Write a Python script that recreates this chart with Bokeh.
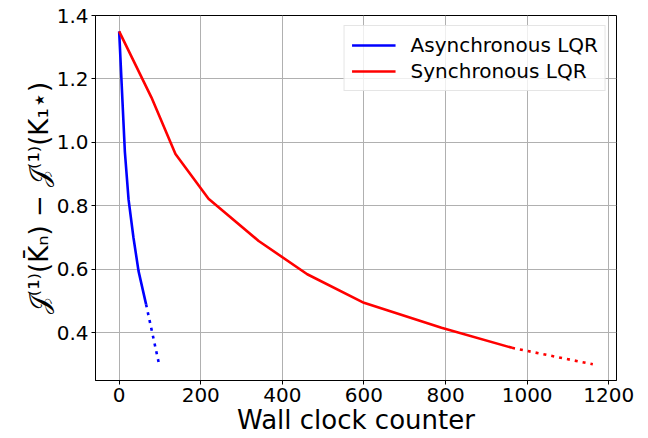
from bokeh.plotting import figure
from bokeh.models import Range1d, FixedTicker, Legend, LegendItem
from bokeh.embed import file_html
from bokeh.resources import INLINE

# ---- data ----
async_x = [0, 14, 23, 35, 47.5, 66]
async_y = [1.35, 0.97, 0.82, 0.70, 0.594, 0.489]
async_tail_x = [66, 97]
async_tail_y = [0.489, 0.305]

sync_x = [0, 79, 138, 219, 342, 461, 600, 790, 963]
sync_y = [1.35, 1.142, 0.963, 0.822, 0.689, 0.584, 0.494, 0.415, 0.352]
sync_tail_x = [963, 1161]
sync_tail_y = [0.352, 0.300]

x_ticks = [0, 200, 400, 600, 800, 1000, 1200]
y_ticks = [0.4, 0.6, 0.8, 1.0, 1.2, 1.4]
y_tick_labels = ["0.4", "0.6", "0.8", "1.0", "1.2", "1.4"]

series_names = ["Asynchronous LQR", "Synchronous LQR"]
x_label = "Wall clock counter"
y_label = "\U0001D4A5\u207D\u00B9\u207E(K\u0304\u2099) \u2212 \U0001D4A5\u207D\u00B9\u207E(K\u2081\u22C6)"

FONT = "DejaVu Sans"

p = figure(width=648, height=438, output_backend="svg", toolbar_location=None,
           x_range=Range1d(-58, 1219), y_range=Range1d(0.249, 1.40),
           min_border_left=95, min_border_right=32, min_border_top=15, min_border_bottom=58)

l1 = p.line(async_x, async_y, line_color="#0000ff", line_width=2.6)
p.line(async_tail_x, async_tail_y, line_color="#0000ff", line_width=2.6, line_dash="3 5")
l2 = p.line(sync_x, sync_y, line_color="#ff0000", line_width=2.6)
p.line(sync_tail_x, sync_tail_y, line_color="#ff0000", line_width=2.6, line_dash="3 5")

legend = Legend(items=[LegendItem(label=series_names[0], renderers=[l1]),
                       LegendItem(label=series_names[1], renderers=[l2])],
                location="top_right")
legend.margin = 10
legend.padding = 7
legend.spacing = 2
legend.glyph_width = 44
legend.glyph_height = 24
legend.label_height = 24
legend.label_standoff = 15
legend.label_text_font = FONT
legend.label_text_font_size = "20px"
legend.label_text_color = "#000000"
legend.border_line_color = "#cccccc"
legend.border_line_width = 1
legend.background_fill_alpha = 0.8
p.add_layout(legend)

p.xaxis.ticker = FixedTicker(ticks=x_ticks)
p.yaxis.ticker = FixedTicker(ticks=y_ticks)
p.yaxis.major_label_overrides = {t: s for t, s in zip(y_ticks, y_tick_labels)}

for ax in (p.xaxis[0], p.yaxis[0]):
    ax.major_label_text_font = FONT
    ax.major_label_text_font_size = "20px"
    ax.major_label_text_color = "#000000"
    ax.axis_label_text_font = FONT
    ax.axis_label_text_font_style = "normal"
    ax.axis_label_text_color = "#000000"
    ax.axis_label_text_font_size = "26px"
    ax.major_tick_in = 0
    ax.major_tick_out = 4
    ax.minor_tick_line_color = None
    ax.axis_line_color = "#000000"
    ax.major_tick_line_color = "#000000"
    ax.axis_line_width = 1
    ax.axis_label_standoff = 0
    ax.major_label_standoff = 3

p.xaxis.axis_label = x_label
p.yaxis.axis_label = y_label

p.xgrid.grid_line_color = "#b0b0b0"
p.ygrid.grid_line_color = "#b0b0b0"
p.xgrid.grid_line_width = 1
p.ygrid.grid_line_width = 1

p.outline_line_color = "#000000"
p.outline_line_width = 1
p.background_fill_color = "#ffffff"
p.border_fill_color = "#ffffff"

open("out.html", "w").write(file_html(p, INLINE))
